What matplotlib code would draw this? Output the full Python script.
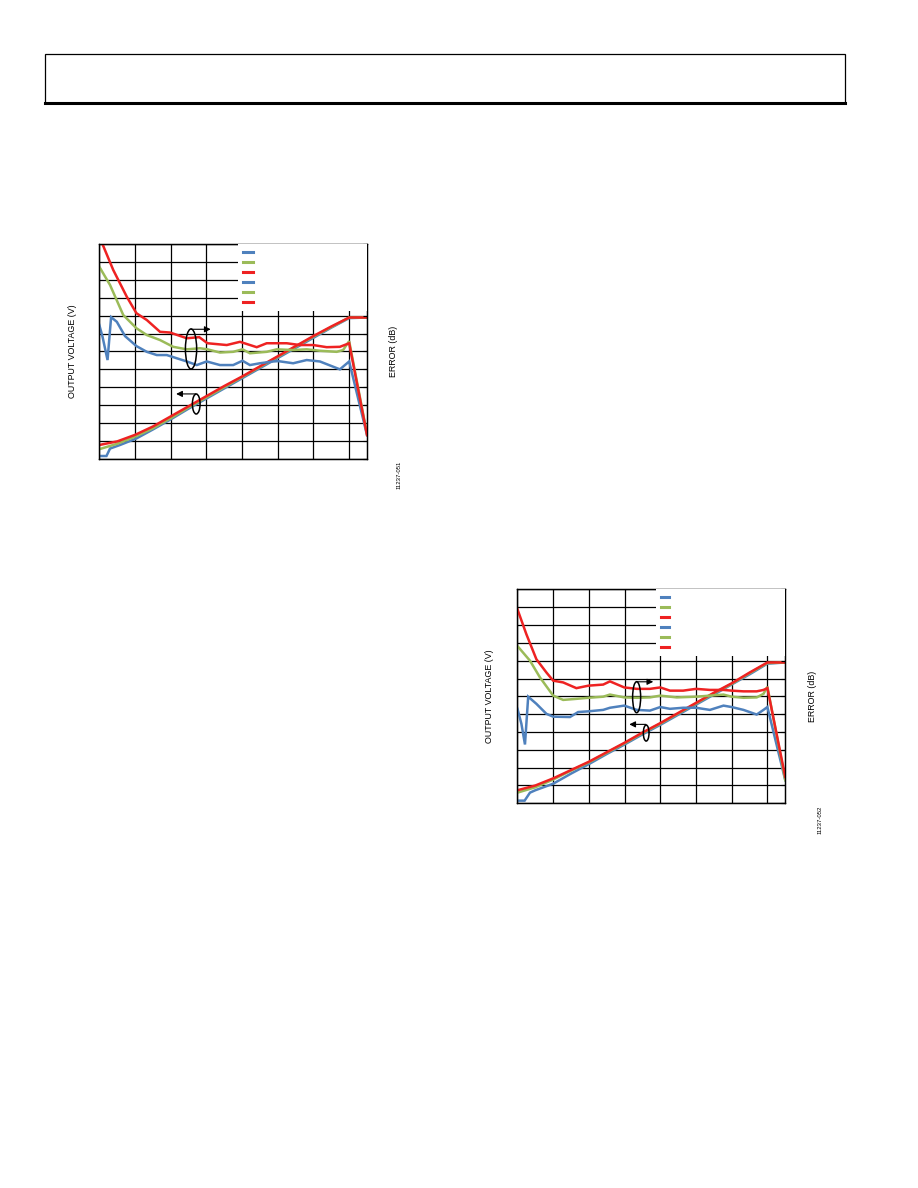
import matplotlib
matplotlib.use("Agg")
import matplotlib.pyplot as plt
from matplotlib.lines import Line2D
from matplotlib.patches import Ellipse, Rectangle
import numpy as np

plt.rcParams['font.family'] = ['Liberation Sans', 'DejaVu Sans']

BLUE = '#4F81BD'
GREEN = '#9BBB59'
RED = '#EE2222'

# ---------------- Chart 1 data ----------------
# Output voltage (left axis)
c1_vx_red = [-70, -65, -60, -55, -50, -45, -40, -35, -30, -25, -20, -15, -10, -5, 0, 5]
c1_vy_red = [0.23, 0.29, 0.40, 0.54, 0.71, 0.88, 1.05, 1.22, 1.38, 1.55, 1.72, 1.89, 2.06, 2.22, 2.37, 2.37]
c1_vx_green = [-70, -65, -60, -55, -50, -45, -40, -35, -30, -25, -20, -15, -10, -5, 0, 5]
c1_vy_green = [0.16, 0.25, 0.37, 0.51, 0.68, 0.86, 1.03, 1.20, 1.37, 1.54, 1.71, 1.88, 2.05, 2.21, 2.37, 2.37]
c1_vx_blue = [-70, -68, -67, -64.2, -59.6, -55, -50, -45, -40, -35, -30, -25, -20, -15, -10, -5, 0, 5]
c1_vy_blue = [0.045, 0.045, 0.17, 0.23, 0.34, 0.49, 0.66, 0.84, 1.01, 1.18, 1.35, 1.52, 1.69, 1.86, 2.03, 2.20, 2.36, 2.37]

# Error (right axis)
c1_ex_red = [-70, -69.1, -66.1, -62.3, -59.6, -56.7, -53.0, -50.2, -45.5, -42, -39.7, -34.3, -30.6, -25.9, -23.1,
             -17.5, -13.8, -10.1, -6.3, -2.6, 0, 5]
c1_ey_red = [3.4, 3.0, 2.28, 1.53, 1.07, 0.88, 0.55, 0.53, 0.37, 0.40, 0.23, 0.18, 0.27, 0.12, 0.23,
             0.23, 0.18, 0.18, 0.12, 0.13, 0.23, -2.34]
c1_ex_green = [-70, -67.0, -63.3, -59.6, -56.7, -53.0, -49.3, -45.5, -41.8, -39.7, -36.2, -32.5, -29.9, -27.8,
               -23.1, -20.3, -15.7, -11.9, -8.2, -3.5, -1.7, 0, 5]
c1_ey_green = [2.37, 1.86, 1.02, 0.65, 0.46, 0.32, 0.13, 0.06, 0.09, 0.06, -0.03, -0.01, 0.06, -0.05,
               -0.01, 0.06, 0.04, 0.06, 0.02, -0.01, 0.04, 0.29, -2.31]
c1_ex_blue = [-70, -69.1, -67.7, -66.7, -65.1, -62.8, -59.6, -56.7, -53.9, -51.1, -48.3, -45.5, -42.7, -39.9,
              -36.2, -32.5, -29.9, -27.8, -25.0, -21.3, -19.9, -15.7, -11.9, -8.2, -2.6, 0, 5]
c1_ey_blue = [0.74, 0.41, -0.24, 0.96, 0.83, 0.43, 0.15, -0.01, -0.10, -0.10, -0.19, -0.28, -0.38, -0.28,
              -0.38, -0.38, -0.26, -0.38, -0.33, -0.28, -0.27, -0.33, -0.24, -0.28, -0.50, -0.28, -2.34]

# ---------------- Chart 2 data ----------------
c2_vx_red = [-70, -65, -60, -55, -50, -45, -40, -35, -30, -25, -20, -15, -10, -5, 0, 5]
c2_vy_red = [0.22, 0.30, 0.42, 0.56, 0.70, 0.86, 1.02, 1.19, 1.35, 1.52, 1.69, 1.86, 2.02, 2.20, 2.37, 2.37]
c2_vx_green = [-70, -65, -60, -55, -50, -45, -40, -35, -30, -25, -20, -15, -10, -5, 0, 5]
c2_vy_green = [0.18, 0.27, 0.40, 0.55, 0.69, 0.85, 1.01, 1.18, 1.34, 1.51, 1.68, 1.85, 2.01, 2.19, 2.36, 2.37]
c2_vx_blue = [-70, -68, -66.5, -65, -60, -55, -50, -45, -40, -35, -30, -25, -20, -15, -10, -5, 0, 5]
c2_vy_blue = [0.045, 0.045, 0.18, 0.22, 0.33, 0.50, 0.66, 0.83, 0.99, 1.16, 1.32, 1.49, 1.66, 1.83, 2.00, 2.17, 2.35, 2.37]

c2_ex_red = [-70, -67.5, -64.7, -61.9, -60, -57.2, -53.5, -50.1, -46.0, -44.1, -40.1, -36.6, -32.9, -30,
             -27.3, -23.6, -20, -16.1, -12.3, -10, -6.7, -3.0, -1.1, 0, 5]
c2_ey_red = [2.44, 1.74, 1.04, 0.67, 0.44, 0.39, 0.23, 0.30, 0.33, 0.42, 0.25, 0.21, 0.21, 0.25,
             0.16, 0.16, 0.21, 0.18, 0.18, 0.16, 0.14, 0.14, 0.18, 0.23, -2.26]
c2_ex_green = [-70, -66.5, -63.7, -60, -57.2, -53.5, -50.1, -46.0, -44.1, -40.1, -36.6, -32.9, -30,
               -25.4, -20, -16.1, -12.3, -10, -6.7, -3.0, -1.1, 0, 5]
c2_ey_green = [1.41, 1.00, 0.53, 0.02, -0.10, -0.07, -0.04, -0.01, 0.05, -0.03, -0.04, -0.03, 0.02,
               -0.03, -0.01, 0.02, 0.05, -0.01, -0.04, -0.03, 0.07, 0.27, -2.35]
c2_ex_blue = [-70, -68.9, -67.9, -67.0, -64.7, -61.9, -60, -55.3, -53.0, -50.1, -46.0, -44.1, -40.1, -36.6,
              -32.9, -30, -27.3, -23.6, -20, -16.1, -12.3, -10, -6.7, -3.0, -1.1, 0, 5]
c2_ey_blue = [-0.35, -0.77, -1.35, -0.01, -0.21, -0.49, -0.57, -0.58, -0.44, -0.42, -0.38, -0.32, -0.26, -0.38,
              -0.40, -0.30, -0.35, -0.32, -0.32, -0.38, -0.26, -0.30, -0.38, -0.51, -0.38, -0.30, -2.35]

X_TICKS = [-70, -60, -50, -40, -30, -20, -10, 0]
V_TICKS = list(np.round(np.arange(0, 3.61, 0.3), 2))
E_TICKS = list(np.round(np.arange(-3, 3.01, 0.5), 2))

fig = plt.figure(figsize=(9.18, 11.88), dpi=100)

# Header box
fig.add_artist(Rectangle((0.049, 0.9130), 0.8715, 0.0413, transform=fig.transFigure,
                         fill=False, edgecolor='black', lw=0.9))
fig.add_artist(Line2D([0.049, 0.9205], [0.9130, 0.9130], transform=fig.transFigure,
                      color='black', lw=2.2))


def make_chart(rect, vdata, edata, leg_x, hlen, ell1, arr1, ell2, arr2, ylab_x, elab_x, fid, fid_pos):
    ax = fig.add_axes(rect)
    ax.set_xlim(-70, 5)
    ax.set_ylim(0, 3.6)
    ax.set_xticks(X_TICKS)
    ax.set_yticks(V_TICKS)
    ax.grid(True, color='black', lw=0.9)
    ax.tick_params(direction='in', length=0, labelleft=False, labelbottom=False)
    for c, (x, y) in zip([BLUE, GREEN, RED], vdata):
        ax.plot(x, y, color=c, lw=1.8, solid_joinstyle='miter')
    ax2 = ax.twinx()
    ax2.set_ylim(-3, 3)
    ax2.set_yticks(E_TICKS)
    ax2.tick_params(direction='in', length=3, labelright=False)
    for c, (x, y) in zip([BLUE, GREEN, RED], edata):
        ax2.plot(x, y, color=c, lw=1.8, solid_joinstyle='miter')
    for s in ax.spines.values():
        s.set_linewidth(0.9)
    for s in ax2.spines.values():
        s.set_linewidth(0.9)

    handles = [Line2D([], [], color=c, lw=2.2) for c in [BLUE, GREEN, RED, BLUE, GREEN, RED]]
    ax2.legend(handles, [''] * 6, loc='upper left', bbox_to_anchor=(leg_x, 1.0, 1.0 - leg_x, 0),
               mode='expand', fontsize=6, handlelength=hlen, handleheight=0.7, labelspacing=0.26,
               borderaxespad=0, borderpad=0.55, frameon=True, fancybox=False, framealpha=1,
               facecolor='white', edgecolor='none', handletextpad=0.3)

    for (cx, cy, w, h) in [ell1, ell2]:
        ax2.add_patch(Ellipse((cx, cy), w, h, transform=ax2.transAxes, fill=False,
                              edgecolor='black', lw=1.1, zorder=6, clip_on=False))
    for (x0, x1, y) in [arr1, arr2]:
        ax2.annotate('', xy=(x1, y), xytext=(x0, y), xycoords='axes fraction', textcoords='axes fraction',
                     arrowprops=dict(arrowstyle='-|>', lw=0.8, color='black', mutation_scale=9,
                                     shrinkA=0, shrinkB=0), zorder=6)

    cy_fig = rect[1] + rect[3] / 2
    fig.text(ylab_x, cy_fig, 'OUTPUT VOLTAGE (V)', rotation=90, ha='center', va='center', fontsize=6.4)
    fig.text(elab_x, cy_fig, 'ERROR (dB)', rotation=90, ha='center', va='center', fontsize=6.4)
    fig.text(fid_pos[0], fid_pos[1], fid, rotation=90, ha='center', va='center', fontsize=4.3)
    return ax, ax2


make_chart([0.1082, 0.6139, 0.2916, 0.1805],
           [(c1_vx_blue, c1_vy_blue), (c1_vx_green, c1_vy_green), (c1_vx_red, c1_vy_red)],
           [(c1_ex_blue, c1_ey_blue), (c1_ex_green, c1_ey_green), (c1_ex_red, c1_ey_red)],
           0.518, 1.2,
           (0.3426, 0.5117, 0.042, 0.187), (0.3426, 0.416, 0.6035),
           (0.362, 0.255, 0.0288, 0.0933), (0.361, 0.287, 0.302),
           72.5 / 918, 393.5 / 918, '11237-051', (399 / 918, 1 - 475 / 1188))

make_chart([0.5637, 0.3238, 0.2917, 0.1801],
           [(c2_vx_blue, c2_vy_blue), (c2_vx_green, c2_vy_green), (c2_vx_red, c2_vy_red)],
           [(c2_ex_blue, c2_ey_blue), (c2_ex_green, c2_ey_green), (c2_ex_red, c2_ey_red)],
           0.517, 1.05,
           (0.445, 0.496, 0.030, 0.145), (0.445, 0.507, 0.568),
           (0.4806, 0.3285, 0.0213, 0.075), (0.48, 0.4175, 0.369),
           489.7 / 918, 812.7 / 918, '11237-052', (820.5 / 918, 1 - 820 / 1188))

fig.savefig('out.png', dpi=100)
